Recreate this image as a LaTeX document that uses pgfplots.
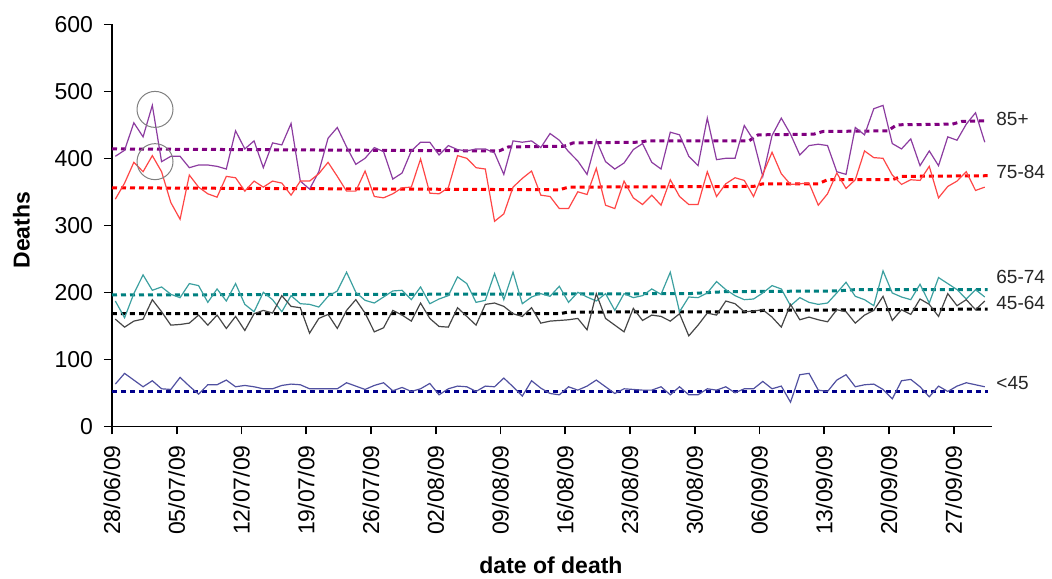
\documentclass[border=0pt]{standalone}
\usepackage{pgfplots}
\usepackage{pgfplotstable}
\pgfplotsset{compat=1.18}
\usepackage{fontspec}
\setmainfont{Liberation Sans}
\definecolor{l85}{RGB}{140,60,160}
\definecolor{d85}{RGB}{128,0,128}
\definecolor{l75}{RGB}{255,70,70}
\definecolor{d75}{RGB}{255,0,0}
\definecolor{l65}{RGB}{60,160,160}
\definecolor{d65}{RGB}{0,128,128}
\definecolor{l45}{RGB}{70,70,70}
\definecolor{d45}{RGB}{0,0,0}
\definecolor{lu}{RGB}{80,80,160}
\definecolor{du}{RGB}{0,0,140}
\pgfplotstableread{
day a85 a75 a65 a45 u45
0 403 339 187 160 63
1 412 363 162 148 79
2 453 394 198 157 69
3 432 380 226 160 59
4 479 404 203 189 68
5 395 380 208 171 56
6 403 334 197 151 55
7 403 309 192 152 73
8 386 375 213 154 60
9 390 357 210 166 48
10 390 347 185 151 62
11 388 342 205 166 62
12 384 373 187 146 69
13 441 371 213 164 59
14 414 351 182 143 61
15 426 366 171 168 59
16 386 357 200 173 56
17 423 366 189 169 56
18 420 363 171 195 61
19 452 345 195 179 63
20 366 366 183 177 62
21 354 366 182 139 56
22 380 377 178 161 56
23 430 394 194 167 56
24 446 373 202 146 56
25 417 351 230 173 65
26 391 351 200 189 60
27 400 381 188 169 55
28 416 343 184 141 61
29 410 341 193 147 65
30 369 347 202 173 53
31 378 356 203 166 58
32 411 357 189 157 52
33 424 399 208 184 56
34 424 348 183 161 64
35 405 347 190 149 47
36 419 356 195 148 56
37 413 404 223 177 60
38 411 400 213 164 59
39 414 386 185 151 52
40 414 384 188 182 60
41 408 306 228 184 59
42 376 317 189 179 72
43 426 357 230 168 59
44 424 370 183 164 45
45 426 381 193 177 68
46 416 345 198 154 57
47 437 343 194 157 49
48 427 325 209 158 47
49 410 325 185 159 59
50 396 350 200 161 54
51 376 346 193 144 60
52 427 385 187 198 69
53 395 330 198 161 59
54 384 325 173 151 49
55 393 366 198 141 56
56 413 341 192 176 55
57 422 331 195 158 54
58 394 345 205 166 54
59 384 330 197 164 59
60 439 368 230 157 47
61 435 343 171 168 59
62 403 331 193 135 47
63 389 331 192 151 47
64 460 380 199 169 56
65 398 343 216 166 54
66 400 362 204 187 59
67 400 371 195 183 50
68 449 367 189 171 56
69 427 343 190 172 56
70 373 376 199 174 67
71 434 409 210 163 56
72 460 377 205 148 60
73 436 361 180 182 36
74 405 362 192 159 77
75 419 363 185 163 79
76 421 330 182 159 54
77 419 347 184 156 52
78 380 378 199 174 69
79 376 355 215 171 77
80 446 368 194 154 59
81 435 411 189 166 62
82 474 401 180 173 63
83 479 400 232 194 55
84 422 375 199 158 41
85 414 361 193 174 68
86 429 368 189 167 70
87 389 367 212 190 59
88 411 388 184 182 44
89 389 341 222 164 60
90 432 358 213 198 52
91 427 366 204 180 60
92 451 380 190 189 65
93 468 352 204 174 62
94 424 357 193 187 59
}\data
\begin{document}
\begin{tikzpicture}[font=\fontsize{11.5}{13.5}\selectfont]
\path[use as bounding box] (-56pt,-75.85pt) rectangle (470pt,213.15pt);
\begin{axis}[
  at={(0,0)}, anchor=south west,
  scale only axis, width=439.85pt, height=201pt,
  xmin=-0.36, xmax=94.75, ymin=0, ymax=600,
  axis lines*=left,
  axis line style={line width=0.8pt, black},
  tick align=outside, major tick length=4pt,
  tick style={line width=0.8pt, black},
  xtick={-0.36,6.64,13.64,20.64,27.64,34.64,41.64,48.64,55.64,62.64,69.64,76.64,83.64,90.64},
  xticklabels={28/06/09,05/07/09,12/07/09,19/07/09,26/07/09,02/08/09,09/08/09,16/08/09,23/08/09,30/08/09,06/09/09,13/09/09,20/09/09,27/09/09},
  xticklabel style={rotate=90, anchor=east, font=\fontsize{11.5}{13.5}\selectfont, xshift=-2pt},
  ytick={0,100,200,300,400,500,600},
  yticklabel style={font=\fontsize{11.5}{13.5}\selectfont, xshift=-2pt},
  /pgf/number format/assume math mode=true,
  clip=false,
]
% baselines
\addplot[d85, line width=1.5pt, dash pattern=on 2.5pt off 2pt] coordinates {(-0.36,414) (41.5,411) (42.5,417) (48.5,418) (49.5,423) (56.5,424) (57.5,426) (68.5,426) (69.5,435) (75.5,436) (76.5,440) (83.5,441) (84.5,450) (90.5,451) (91.5,455) (94.3,456)};
\addplot[d75, line width=1.5pt, dash pattern=on 2.5pt off 2pt] coordinates {(-0.36,356) (48,353) (49,357) (69,358) (70,362) (76,362) (77,368) (84,368) (85,373) (94.3,374)};
\addplot[d65, line width=1.5pt, dash pattern=on 2.5pt off 2pt] coordinates {(-0.36,196) (62,198) (66,201) (78,202) (80,204) (94.3,204)};
\addplot[d45, line width=1.5pt, dash pattern=on 2.5pt off 2pt] coordinates {(-0.36,168) (48,168) (49,170.5) (69,171) (70,173) (94.3,175)};
\addplot[du, line width=1.5pt, dash pattern=on 2.5pt off 2pt] coordinates {(-0.36,52) (94.3,52)};
% data
\addplot[l85, line width=0.6pt] table[x=day, y=a85] {\data};
\addplot[l75, line width=0.6pt] table[x=day, y=a75] {\data};
\addplot[l65, line width=0.6pt] table[x=day, y=a65] {\data};
\addplot[l45, line width=0.6pt] table[x=day, y=a45] {\data};
\addplot[lu, line width=0.6pt] table[x=day, y=u45] {\data};
% circles
\addplot[only marks, mark=o, mark size=9pt, mark options={draw=gray, line width=0.5pt}] coordinates {(4.29,473) (4.29,395)};
% labels
\begin{scope}[every node/.style={anchor=west, text=black!85, inner sep=1pt, font=\fontsize{9.5}{11}\selectfont}]
\node at (axis cs:95.0,458) {85+};
\node at (axis cs:95.0,380) {75-84};
\node at (axis cs:95.0,223) {65-74};
\node at (axis cs:95.0,184.5) {45-64};
\node at (axis cs:95.0,65) {<45};
\end{scope}
\node[rotate=90, font=\bfseries\fontsize{11.5}{13.5}\selectfont] at ([xshift=-45.25pt]axis description cs:0,0.488) {Deaths};
\node[font=\bfseries\fontsize{11.5}{13.5}\selectfont, inner sep=1pt] at ([yshift=-69.5pt]axis description cs:0.499,0) {date of death};
\end{axis}
\end{tikzpicture}
\end{document}
